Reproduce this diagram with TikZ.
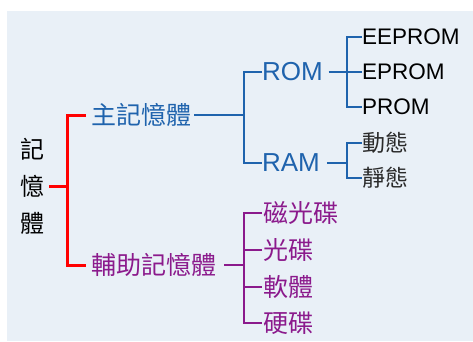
\documentclass[tikz,border=0pt]{standalone}
\usepackage{fontspec}
\setmainfont{Liberation Sans}
\newfontfamily\cjk{Noto Sans CJK TC}
\definecolor{bgc}{HTML}{E9F0F7}
\definecolor{bluec}{HTML}{1F63AD}
\definecolor{purc}{HTML}{8B1A8C}
\definecolor{redc}{HTML}{FF0000}
\definecolor{grayc}{HTML}{2A2A2A}
\begin{document}
\begin{tikzpicture}[x=1pt,y=-1pt,
  txt/.style={inner sep=0pt,outer sep=0pt,anchor=west},
  lvlone/.style={txt,font=\cjk\fontsize{25}{25}\selectfont},
  romtxt/.style={txt,font=\fontsize{26}{26}\selectfont,text=bluec},
  leaftxt/.style={txt,font=\fontsize{22.5}{22.5}\selectfont,text=black},
  cjkleaf/.style={txt,font=\cjk\fontsize{23}{23}\selectfont,text=grayc},
  purleaf/.style={txt,font=\cjk\fontsize{25}{25}\selectfont,text=purc},
  redln/.style={draw=redc,line width=3pt},
  blueln/.style={draw=bluec,line width=2.6pt},
  purln/.style={draw=purc,line width=2.6pt}]
\useasboundingbox (0,0) rectangle (473,341);
\fill[bgc] (7,11) rectangle (473,341);
% root
\node[inner sep=0pt,align=center,font=\cjk\fontsize{24}{37}\selectfont] (root) at (32,186) {記\\憶\\體};
\coordinate (rj) at (67,186);
\node[lvlone,text=bluec] (main) at (91,115) {主記憶體};
\node[lvlone,text=purc] (aux) at (91,265) {輔助記憶體};
\draw[redln,shorten <=5pt] (root.east) -- (root.east -| rj);
\draw[redln,shorten <=5pt,shorten >=5pt] (main.west) -| (rj) |- (aux.west);
% main memory branch
\coordinate (bj) at (244,115);
\node[romtxt] (rom) at (262,72) {ROM};
\node[romtxt] (ram) at (262,163) {RAM};
\draw[blueln,shorten <=3pt] (main.east) -- (bj);
\draw[blueln] (rom.west) -| (bj) |- (ram.west);
% ROM leaves
\coordinate (rj2) at (347,72);
\node[leaftxt] (eeprom) at (362,37) {EEPROM};
\node[leaftxt] (eprom) at (362,72) {EPROM};
\node[leaftxt] (prom) at (362,107) {PROM};
\draw[blueln,shorten <=6pt] (rom.east) -- (rj2);
\draw[blueln] (eeprom.west) -| (rj2) |- (prom.west);
\draw[blueln] (eprom.west) -- (eprom.west -| rj2);
% RAM leaves
\coordinate (rj3) at (347,163);
\node[cjkleaf] (dyn) at (362,143) {動態};
\node[cjkleaf] (stat) at (362,178) {靜態};
\draw[blueln,shorten <=7pt] (ram.east) -- (rj3);
\draw[blueln] (dyn.west) -| (rj3) |- (stat.west);
% auxiliary branch
\coordinate (pj) at (244,265);
\node[purleaf] (mo) at (263,213) {磁光碟};
\node[purleaf] (cd) at (263,250) {光碟};
\node[purleaf] (soft) at (263,287) {軟體};
\node[purleaf] (hd) at (263,323) {硬碟};
\draw[purln,shorten <=8pt] (aux.east) -- (pj);
\draw[purln,shorten <=1pt] (mo.west) -| (pj) |- ([xshift=-1pt]hd.west);
\draw[purln,shorten <=1pt] (cd.west) -- (cd.west -| pj);
\draw[purln,shorten <=1pt] (soft.west) -- (soft.west -| pj);
\end{tikzpicture}
\end{document}
